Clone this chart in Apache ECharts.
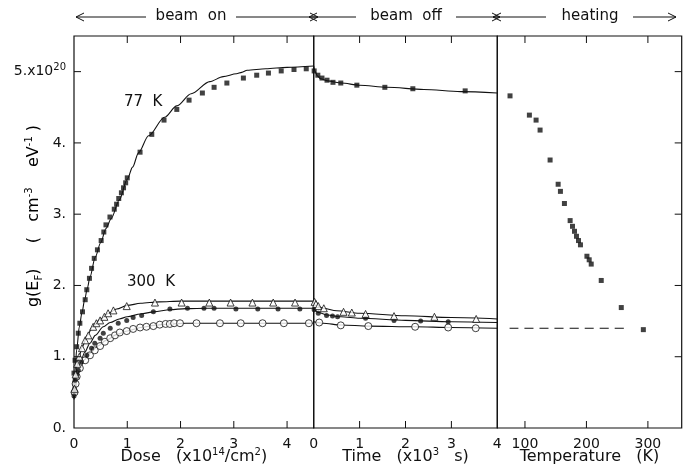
<!DOCTYPE html>
<html>
<head>
<meta charset="utf-8">
<script src="https://cdn.jsdelivr.net/npm/echarts@6/dist/echarts.min.js"></script>
<style>
  html, body { margin: 0; padding: 0; background: #fff; }
  #chart { width: 684px; height: 471px; }
</style>
</head>
<body>
<div id="chart"></div>
<script>
// beam on panel: dose (x10^14 / cm^2) vs g(E_F) (x10^20)
const dose77 = [[0.005,0.5],[0.01,0.62],[0.0,0.77],[0.02,0.95],[0.05,1.14],[0.08,1.33],[0.11,1.47],[0.16,1.63],[0.21,1.80],[0.24,1.94],[0.29,2.10],[0.33,2.24],[0.38,2.38],[0.44,2.50],[0.51,2.63],[0.56,2.75],[0.60,2.85],[0.675,2.96],[0.756,3.07],[0.80,3.14],[0.84,3.22],[0.89,3.30],[0.93,3.37],[0.97,3.44],[1.0,3.51],[1.24,3.87],[1.46,4.12],[1.69,4.32],[1.93,4.47],[2.16,4.60],[2.41,4.70],[2.63,4.78],[2.87,4.84],[3.18,4.91],[3.43,4.95],[3.65,4.98],[3.89,5.01],[4.13,5.03],[4.36,5.04]];
const dose77Fit = [[0,0.42],[0.02,0.8],[0.05,1.1],[0.1,1.42],[0.15,1.62],[0.2,1.8],[0.25,1.96],[0.3,2.12],[0.4,2.4],[0.5,2.6],[0.6,2.8],[0.7,2.94],[0.85,3.2],[1.0,3.49],[1.1,3.66],[1.21,3.86],[1.4,4.1],[1.7,4.36],[1.93,4.52],[2.2,4.69],[2.55,4.86],[2.8,4.93],[3.05,4.97],[3.15,4.99],[3.25,5.02],[3.6,5.04],[4.0,5.06],[4.5,5.08]];
const doseTri = [[0.01,0.55],[0.03,0.75],[0.06,0.9],[0.1,1.0],[0.15,1.12],[0.21,1.23],[0.27,1.30],[0.36,1.42],[0.42,1.47],[0.49,1.51],[0.57,1.56],[0.64,1.61],[0.74,1.65],[0.99,1.71],[1.52,1.76],[2.02,1.76],[2.54,1.76],[2.94,1.76],[3.35,1.76],[3.74,1.76],[4.15,1.76]];
const doseTriFit = [[0,0.45],[0.03,0.72],[0.08,0.95],[0.15,1.13],[0.25,1.3],[0.35,1.42],[0.5,1.53],[0.65,1.61],[0.8,1.67],[1.0,1.72],[1.25,1.75],[1.6,1.77],[2.0,1.78],[4.5,1.78]];
const doseDot = [[0.0,0.45],[0.01,0.55],[0.02,0.67],[0.05,0.75],[0.08,0.81],[0.14,0.93],[0.24,1.02],[0.33,1.12],[0.39,1.19],[0.49,1.26],[0.55,1.33],[0.68,1.40],[0.83,1.47],[0.99,1.51],[1.11,1.55],[1.27,1.58],[1.49,1.63],[1.80,1.67],[2.13,1.68],[2.44,1.68],[2.63,1.68],[3.04,1.67],[3.45,1.67],[3.83,1.67],[4.24,1.67]];
const doseDotFit = [[0,0.42],[0.05,0.7],[0.12,0.92],[0.2,1.06],[0.3,1.19],[0.4,1.3],[0.55,1.42],[0.68,1.48],[0.85,1.53],[1.0,1.56],[1.25,1.6],[1.5,1.63],[1.8,1.66],[2.1,1.675],[2.5,1.68],[4.5,1.68]];
const doseRing = [[0.01,0.5],[0.03,0.62],[0.05,0.72],[0.11,0.84],[0.21,0.95],[0.30,1.02],[0.39,1.09],[0.49,1.15],[0.58,1.21],[0.68,1.26],[0.77,1.30],[0.86,1.34],[0.99,1.36],[1.11,1.39],[1.24,1.41],[1.36,1.42],[1.49,1.43],[1.61,1.45],[1.72,1.46],[1.80,1.46],[1.88,1.47],[1.99,1.47],[2.30,1.47],[2.74,1.47],[3.13,1.47],[3.54,1.47],[3.94,1.47],[4.41,1.47]];
const doseRingFit = [[0,0.4],[0.05,0.65],[0.12,0.85],[0.2,0.96],[0.3,1.05],[0.45,1.15],[0.6,1.23],[0.8,1.31],[1.0,1.36],[1.25,1.41],[1.5,1.44],[1.8,1.46],[2.1,1.47],[4.5,1.47]];

// beam off panel: time (x10^3 s)
const time77 = [[0.01,5.01],[0.09,4.95],[0.18,4.91],[0.29,4.88],[0.42,4.85],[0.59,4.84],[0.94,4.81],[1.55,4.78],[2.16,4.76],[3.3,4.73]];
const time77Fit = [[0,5.08],[0.03,5.0],[0.08,4.94],[0.15,4.9],[0.3,4.87],[0.6,4.84],[1.0,4.81],[1.6,4.78],[2.4,4.75],[3.2,4.72],[4.0,4.70]];
const timeTri = [[0.02,1.77],[0.05,1.74],[0.1,1.71],[0.22,1.68],[0.65,1.63],[0.83,1.62],[1.13,1.60],[1.75,1.57],[2.63,1.56],[3.54,1.53]];
const timeTriFit = [[0,1.78],[0.05,1.72],[0.2,1.68],[0.5,1.645],[1.0,1.61],[2.0,1.575],[3.0,1.55],[4.0,1.53]];
const timeDot = [[0.01,1.66],[0.1,1.61],[0.28,1.58],[0.41,1.57],[0.52,1.56],[1.13,1.54],[1.75,1.51],[2.33,1.50],[2.93,1.49]];
const timeDotFit = [[0,1.68],[0.1,1.62],[0.3,1.585],[0.6,1.56],[1.0,1.54],[2.0,1.51],[3.0,1.49],[4.0,1.48]];
const timeRing = [[0.12,1.48],[0.59,1.44],[1.19,1.43],[2.21,1.42],[2.93,1.41],[3.53,1.40]];
const timeRingFit = [[0,1.49],[0.2,1.47],[0.6,1.445],[1.2,1.43],[2.2,1.42],[3.0,1.41],[4.0,1.40]];

// heating panel: temperature (K)
const heat77 = [[75.7,4.66],[107.2,4.39],[118.1,4.32],[124.6,4.18],[140.9,3.76],[154,3.42],[157.7,3.32],[164.2,3.15],[173.5,2.91],[177.3,2.83],[180.6,2.76],[183.8,2.69],[187.1,2.63],[190.3,2.57],[200.8,2.41],[204.5,2.36],[207.8,2.30],[224.1,2.07],[256.7,1.69],[292.6,1.38]];
const heatBase = [[75,1.40],[262,1.40]];

// ticks and tick labels
const yLabels = [0, 1, 2, 3, 4, 5];
const yTicks = [1, 2, 3, 4, 5];
const doseLabels = [0, 1, 2, 3, 4];
const doseTicks = [1, 2, 3, 4];
const timeLabels = [0, 1, 2, 3, 4];
const timeTicks = [1, 2, 3];
const tempLabels = [100, 200, 300];
const tempTicks = [100, 200, 300];

const FONT = 'DejaVu Sans';
const INK = '#111';
const Y_MAX = 5.5;
const RANGES = [[0, 4.5], [0, 4], [55, 355]];
const TICK = 7;

const chart = echarts.init(document.getElementById('chart'));

// one framed grid per panel
const grids = [
  { left: 74, top: 36, width: 239.7, height: 392 },
  { left: 313.7, top: 36, width: 183.6, height: 392 },
  { left: 497.3, top: 36, width: 184.4, height: 392 }
].map((g) => ({ ...g, show: true, borderColor: INK, borderWidth: 1.2, backgroundColor: 'transparent', outerBoundsMode: 'none' }));

const supRich = {
  n: { fontSize: 16, lineHeight: 20, fontFamily: FONT, color: INK },
  s: { fontSize: 10, lineHeight: 12, verticalAlign: 'top', fontFamily: FONT, color: INK },
  b: { fontSize: 10, lineHeight: 12, verticalAlign: 'bottom', fontFamily: FONT, color: INK }
};

const xAxis = (grid, labels, step, name) => ({
  type: 'value',
  gridIndex: grid,
  position: 'bottom',
  min: RANGES[grid][0],
  max: RANGES[grid][1],
  splitNumber: Math.round((RANGES[grid][1] - RANGES[grid][0]) / step),
  minInterval: step,
  maxInterval: step,
  splitLine: { show: false },
  axisLine: { show: false },
  axisTick: { show: false },
  name,
  nameLocation: 'middle',
  nameGap: 19,
  nameMoveOverlap: false,
  nameTextStyle: { rich: supRich },
  axisLabel: {
    show: true,
    margin: 9,
    fontSize: 14,
    fontFamily: FONT,
    color: INK,
    showMinLabel: labels.includes(RANGES[grid][0]),
    showMaxLabel: labels.includes(RANGES[grid][1]),
    formatter: (v) => (labels.includes(v) ? String(v) : '')
  }
});

const yAxis = (grid, labels) => ({
  type: 'value',
  gridIndex: grid,
  min: 0,
  max: Y_MAX,
  interval: 1,
  splitLine: { show: false },
  axisLine: { show: false },
  axisTick: { show: false },
  axisLabel: labels
    ? {
        show: true,
        margin: 8,
        fontSize: 14,
        fontFamily: FONT,
        color: INK,
        showMaxLabel: false,
        formatter: (v) => (!labels.includes(v) ? '' : v === 5 ? '{m|5.x10}{s|20}' : v + '.'),
        rich: {
          m: { fontSize: 14, lineHeight: 18, fontFamily: FONT, color: INK },
          s: { fontSize: 10, lineHeight: 12, verticalAlign: 'top', fontFamily: FONT, color: INK }
        }
      }
    : { show: false }
});

const lineSeries = (grid, data, dashed) => ({
  type: 'line',
  xAxisIndex: grid,
  yAxisIndex: grid,
  data,
  showSymbol: false,
  smooth: 0.3,
  smoothMonotone: 'x',
  silent: true,
  z: 2,
  lineStyle: { color: INK, width: 1.1, type: dashed ? [9, 6] : 'solid' }
});

const markSeries = (grid, data, kind) => {
  const styles = {
    square: { symbol: 'rect', symbolSize: 5, itemStyle: { color: INK } },
    dot: { symbol: 'circle', symbolSize: 5, itemStyle: { color: INK } },
    ring: { symbol: 'circle', symbolSize: 7, itemStyle: { color: '#fff', borderColor: INK, borderWidth: 1 } },
    tri: { symbol: 'triangle', symbolSize: 7, itemStyle: { color: '#fff', borderColor: INK, borderWidth: 1 } }
  };
  return { type: 'scatter', xAxisIndex: grid, yAxisIndex: grid, data, z: 3, silent: true, ...styles[kind] };
};

// header arrows
const HY = 17;
const arrowHead = (tip, dir) => ({
  type: 'polyline',
  silent: true,
  shape: { points: [[tip - dir * 8, HY - 4], [tip, HY], [tip - dir * 8, HY + 4]] },
  style: { stroke: INK, lineWidth: 1, fill: null }
});
const seg = (x1, y1, x2, y2) => ({
  type: 'line',
  silent: true,
  z: 100,
  shape: { x1, y1, x2, y2 },
  style: { stroke: INK, lineWidth: 1 }
});
const hLine = (x1, x2) => seg(x1, HY, x2, HY);
const label = (x, y, text, align) => ({
  type: 'text',
  silent: true,
  x,
  y,
  style: { text, fontFamily: FONT, fontSize: 15, fill: INK, align: align || 'center', verticalAlign: 'middle' }
});

const baseGraphic = [
  arrowHead(76, -1), hLine(76, 146), label(191, HY - 1, 'beam  on'), hLine(236, 318), arrowHead(318, 1),
  arrowHead(309, -1), hLine(309, 356), label(406, HY - 1, 'beam  off'), hLine(456, 500), arrowHead(500, 1),
  arrowHead(493, -1), hLine(493, 546), label(590, HY - 1, 'heating'), hLine(633, 676), arrowHead(676, 1),
  label(124, 102, '77  K', 'left'),
  label(127, 282, '300  K', 'left'),
  {
    type: 'text',
    silent: true,
    x: 34,
    y: 216,
    rotation: Math.PI / 2,
    style: {
      text: '{n|g(E}{b|F}{n|)     (   cm}{s|-3}{n|    eV}{s|-1}{n| )}',
      rich: supRich,
      align: 'center',
      verticalAlign: 'middle'
    }
  }
];

const option = {
  animation: false,
  backgroundColor: '#fff',
  textStyle: { fontFamily: FONT, color: INK },
  grid: grids,
  xAxis: [
    xAxis(0, doseLabels, 1, '{n|Dose   (x10}{s|14}{n|/cm}{s|2}{n|)}'),
    xAxis(1, timeLabels, 1, '{n|Time   (x10}{s|3}{n|   s)}'),
    xAxis(2, tempLabels, 100, '{n|Temperature   (K)}')
  ],
  yAxis: [yAxis(0, yLabels), yAxis(1, null), yAxis(2, null)],
  graphic: baseGraphic,
  series: [
    lineSeries(0, dose77Fit),
    lineSeries(0, doseTriFit),
    lineSeries(0, doseDotFit),
    lineSeries(0, doseRingFit),
    markSeries(0, dose77, 'square'),
    markSeries(0, doseRing, 'ring'),
    markSeries(0, doseDot, 'dot'),
    markSeries(0, doseTri, 'tri'),

    lineSeries(1, time77Fit),
    lineSeries(1, timeTriFit),
    lineSeries(1, timeDotFit),
    lineSeries(1, timeRingFit),
    markSeries(1, time77, 'square'),
    markSeries(1, timeRing, 'ring'),
    markSeries(1, timeDot, 'dot'),
    markSeries(1, timeTri, 'tri'),

    lineSeries(2, heatBase, true),
    markSeries(2, heat77, 'square')
  ]
};

chart.setOption(option);

// inward tick marks, placed through each panel's own scales
const px = (grid, value) => chart.convertToPixel({ gridIndex: grid }, value);
const tickGraphic = [];
[[0, doseTicks], [1, timeTicks], [2, tempTicks]].forEach(([grid, ticks]) => {
  ticks.forEach((v) => {
    const b = px(grid, [v, 0]);
    const t = px(grid, [v, Y_MAX]);
    tickGraphic.push(seg(b[0], b[1], b[0], b[1] - TICK), seg(t[0], t[1], t[0], t[1] + TICK));
  });
});
yTicks.forEach((v) => {
  const l = px(0, [RANGES[0][0], v]);
  const r = px(2, [RANGES[2][1], v]);
  tickGraphic.push(seg(l[0], l[1], l[0] + TICK, l[1]), seg(r[0], r[1], r[0] - TICK, r[1]));
});
chart.setOption({ graphic: [...baseGraphic, ...tickGraphic] });
</script>
</body>
</html>
